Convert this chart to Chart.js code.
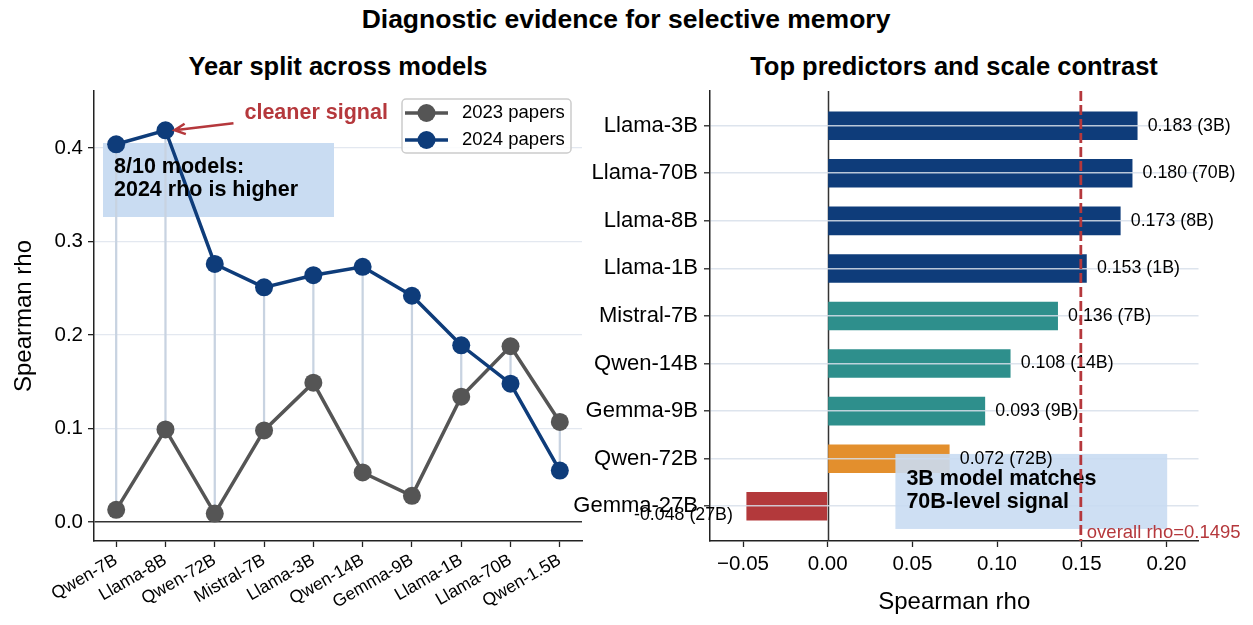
<!DOCTYPE html>
<html>
<head>
<meta charset="utf-8">
<script src="https://cdn.jsdelivr.net/npm/chart.js@4.4.1/dist/chart.umd.min.js"></script>
<style>
  body { margin: 0; width: 1253px; height: 625px; background: #fff; position: relative; overflow: hidden;
         font-family: "Liberation Sans", Arial, sans-serif; }
  .ttl { position: absolute; font-weight: bold; color: #000; white-space: nowrap; transform: translate(-50%, -50%); }
  canvas { position: absolute; top: 0; }
</style>
</head>
<body>
<div class="ttl" style="left:626px; top:19px; font-size:26.5px">Diagnostic evidence for selective memory</div>
<div class="ttl" style="left:338px; top:66px; font-size:25.5px">Year split across models</div>
<div class="ttl" style="left:954px; top:66px; font-size:25.5px">Top predictors and scale contrast</div>
<canvas id="yearChart" width="600" height="625" style="left:0; width:600px; height:625px"></canvas>
<canvas id="predChart" width="698" height="625" style="left:555px; width:698px; height:625px"></canvas>
<script>
// left panel: rho by model, split by paper year
const yearModels = ['Qwen-7B', 'Llama-8B', 'Qwen-72B', 'Mistral-7B', 'Llama-3B', 'Qwen-14B', 'Gemma-9B', 'Llama-1B', 'Llama-70B', 'Qwen-1.5B'];
const rho2023 = [0.013, 0.099, 0.009, 0.098, 0.149, 0.053, 0.028, 0.134, 0.188, 0.107];
const rho2024 = [0.404, 0.419, 0.276, 0.251, 0.264, 0.273, 0.242, 0.189, 0.148, 0.055];
const yearTicks = [0, 0.1, 0.2, 0.3, 0.4];

// right panel: top predictors
const predModels = ['Llama-3B', 'Llama-70B', 'Llama-8B', 'Llama-1B', 'Mistral-7B', 'Qwen-14B', 'Gemma-9B', 'Qwen-72B', 'Gemma-27B'];
const predRho = [0.183, 0.180, 0.173, 0.153, 0.136, 0.108, 0.093, 0.072, -0.048];
const predSize = ['3B', '70B', '8B', '1B', '7B', '14B', '9B', '72B', '27B'];
const predGroup = ['llama', 'llama', 'llama', 'llama', 'mid', 'mid', 'mid', 'qwen72', 'gemma27'];
const rhoTicks = [-0.05, 0, 0.05, 0.10, 0.15, 0.20];
const overallRho = 0.1495;

const FONT = '"Liberation Sans", Arial, sans-serif';
Chart.defaults.font.family = FONT;
Chart.defaults.color = '#000';

const gray = '#555555';
const navy = '#0e3c7a';
const groupColors = { llama: '#0e3c7a', mid: '#2e8f8c', qwen72: '#e38f2d', gemma27: '#b3393b' };
const red = '#b5383c';
const boxBlue = '#c9dcf2';

const yearNotes = {
  id: 'yearNotes',
  beforeDatasetsDraw(chart) {
    const { ctx, chartArea: a } = chart;
    ctx.save();
    ctx.fillStyle = boxBlue;
    ctx.fillRect(a.left + 9, a.top + 52, 231, 74);
    ctx.restore();
  },
  afterDatasetsDraw(chart) {
    const { ctx, chartArea: a, scales: { x, y } } = chart;
    ctx.save();
    ctx.fillStyle = '#000';
    ctx.font = 'bold 21.5px ' + FONT;
    ctx.textBaseline = 'middle';
    ctx.textAlign = 'left';
    ctx.fillText('8/10 models:', a.left + 20, a.top + 76);
    ctx.fillText('2024 rho is higher', a.left + 20, a.top + 99);

    // arrow pointing at the Llama-8B 2024 point
    const tx = x.getPixelForValue(1) + 9;
    const ty = y.getPixelForValue(rho2024[1]);
    const sx = tx + 59, sy = ty - 7;
    const ang = Math.atan2(ty - sy, tx - sx);
    ctx.strokeStyle = red;
    ctx.lineWidth = 2.5;
    ctx.beginPath();
    ctx.moveTo(sx, sy);
    ctx.lineTo(tx, ty);
    ctx.moveTo(tx - 12 * Math.cos(ang - 0.45), ty - 12 * Math.sin(ang - 0.45));
    ctx.lineTo(tx, ty);
    ctx.lineTo(tx - 12 * Math.cos(ang + 0.45), ty - 12 * Math.sin(ang + 0.45));
    ctx.stroke();
    ctx.fillStyle = red;
    ctx.fillText('cleaner signal', tx + 70, ty - 17);

    // legend
    const lx = a.right - 180, ly = a.top + 8, lw = 169, lh = 54;
    ctx.fillStyle = 'rgba(255,255,255,0.85)';
    ctx.strokeStyle = '#cccccc';
    ctx.lineWidth = 1.5;
    ctx.beginPath();
    ctx.roundRect(lx, ly, lw, lh, 4);
    ctx.fill();
    ctx.stroke();
    const entries = chart.data.datasets.filter(d => d.type !== 'bar');
    entries.forEach((d, k) => {
      const cy = ly + 14 + k * 27;
      ctx.strokeStyle = d.borderColor;
      ctx.lineWidth = 3.5;
      ctx.beginPath();
      ctx.moveTo(lx + 3, cy);
      ctx.lineTo(lx + 46, cy);
      ctx.stroke();
      ctx.fillStyle = d.borderColor;
      ctx.beginPath();
      ctx.arc(lx + 24.5, cy, 9, 0, Math.PI * 2);
      ctx.fill();
      ctx.fillStyle = '#000';
      ctx.font = '18.5px ' + FONT;
      ctx.fillText(d.label, lx + 60, cy);
    });
    ctx.restore();
  }
};

new Chart(document.getElementById('yearChart'), {
  type: 'line',
  data: {
    datasets: [
      {
        type: 'bar',
        label: 'gap',
        data: yearModels.map((m, i) => ({ x: i, y: [Math.min(rho2023[i], rho2024[i]), Math.max(rho2023[i], rho2024[i])] })),
        backgroundColor: '#c8d3e1',
        barThickness: 1.6,
        order: 3
      },
      {
        label: '2023 papers',
        data: yearModels.map((m, i) => ({ x: i, y: rho2023[i] })),
        borderColor: gray,
        backgroundColor: gray,
        borderWidth: 3.5,
        pointRadius: 9,
        pointBorderWidth: 0,
        order: 2
      },
      {
        label: '2024 papers',
        data: yearModels.map((m, i) => ({ x: i, y: rho2024[i] })),
        borderColor: navy,
        backgroundColor: navy,
        borderWidth: 3.5,
        pointRadius: 9,
        pointBorderWidth: 0,
        order: 1
      }
    ]
  },
  options: {
    responsive: false,
    animation: false,
    layout: { padding: { left: 0, right: 18, top: 91, bottom: 0 } },
    plugins: { legend: { display: false }, tooltip: { enabled: false } },
    scales: {
      x: {
        type: 'linear',
        min: -0.45,
        max: 9.45,
        offset: false,
        afterBuildTicks: s => { s.ticks = yearModels.map((m, i) => ({ value: i })); },
        afterFit: s => { s.height = 84; },
        grid: { offset: false, drawOnChartArea: false, tickColor: '#222', tickLength: 6, tickWidth: 1.3 },
        border: { color: '#222', width: 1.5 },
        ticks: { callback: v => yearModels[v], minRotation: 30, maxRotation: 30, autoSkip: false,
                 font: { size: 17.5 }, color: '#000', padding: 3 }
      },
      y: {
        min: -0.0203,
        max: 0.461,
        afterBuildTicks: s => { s.ticks = yearTicks.map(v => ({ value: v })); },
        afterFit: s => { s.width = 94; },
        grid: {
          color: c => (c.tick && c.tick.value === 0 ? '#333' : '#e3e8f0'),
          lineWidth: c => (c.tick && c.tick.value === 0 ? 1.5 : 1.3),
          tickColor: '#222', tickLength: 6, tickWidth: 1.3
        },
        border: { color: '#222', width: 1.5 },
        ticks: { callback: v => v.toFixed(1), font: { size: 20.5 }, color: '#000', padding: 5 },
        title: { display: true, text: 'Spearman rho', font: { size: 24 }, color: '#000', padding: { top: 10, bottom: 0 } }
      }
    }
  },
  plugins: [yearNotes]
});

const predNotes = {
  id: 'predNotes',
  beforeDatasetsDraw(chart) {
    // zero reference line
    const { ctx, chartArea: a, scales: { x } } = chart;
    const zx = Math.round(x.getPixelForValue(0)) + 0.5;
    ctx.save();
    ctx.strokeStyle = '#333';
    ctx.lineWidth = 1.5;
    ctx.beginPath();
    ctx.moveTo(zx, a.top);
    ctx.lineTo(zx, a.bottom);
    ctx.stroke();
    ctx.restore();
  },
  afterDraw(chart) {
    const { ctx, chartArea: a, scales: { x, y } } = chart;
    ctx.save();
    ctx.textBaseline = 'middle';

    // callout box
    const bx0 = x.getPixelForValue(0.04), bx1 = x.getPixelForValue(0.2005);
    const by0 = y.getPixelForValue(6.9), by1 = y.getPixelForValue(8.477);
    ctx.fillStyle = 'rgba(201,220,242,0.9)';
    ctx.fillRect(bx0, by0, bx1 - bx0, by1 - by0);

    // value labels
    ctx.font = '17.8px ' + FONT;
    ctx.fillStyle = '#000';
    predRho.forEach((v, i) => {
      const pos = v >= 0;
      ctx.textAlign = pos ? 'left' : 'right';
      const px = x.getPixelForValue(v + (pos ? 0.006 : -0.008));
      const py = y.getPixelForValue(i) + (pos ? 0 : 9);
      ctx.fillText(v.toFixed(3) + ' (' + predSize[i] + ')', px, py);
    });

    ctx.font = 'bold 21.5px ' + FONT;
    ctx.textAlign = 'left';
    ctx.fillText('3B model matches', bx0 + 11, by0 + 25);
    ctx.fillText('70B-level signal', bx0 + 11, by0 + 48);

    // overall rho reference line
    const ox = x.getPixelForValue(overallRho);
    ctx.strokeStyle = red;
    ctx.lineWidth = 2.8;
    ctx.setLineDash([10, 4]);
    ctx.beginPath();
    ctx.moveTo(ox, a.top);
    ctx.lineTo(ox, a.bottom);
    ctx.stroke();
    ctx.setLineDash([]);
    ctx.fillStyle = red;
    ctx.font = '18.5px ' + FONT;
    ctx.fillText('overall rho=' + overallRho, ox + 6, a.bottom - 8);
    ctx.restore();
  }
};

new Chart(document.getElementById('predChart'), {
  type: 'bar',
  data: {
    datasets: [{
      label: 'Spearman rho',
      data: predRho.map((v, i) => ({ x: v, y: i })),
      backgroundColor: predGroup.map(g => groupColors[g]),
      barPercentage: 0.6,
      categoryPercentage: 1.0
    }]
  },
  options: {
    indexAxis: 'y',
    responsive: false,
    animation: false,
    layout: { padding: { left: 0, right: 54.5, top: 91, bottom: 0 } },
    plugins: { legend: { display: false }, tooltip: { enabled: false } },
    scales: {
      x: {
        type: 'linear',
        min: -0.0695,
        max: 0.219,
        afterBuildTicks: s => { s.ticks = rhoTicks.map(v => ({ value: v })); },
        afterFit: s => { s.height = 84; },
        grid: { offset: false, drawOnChartArea: false, tickColor: '#222', tickLength: 6, tickWidth: 1.3 },
        border: { color: '#222', width: 1.5 },
        ticks: { callback: v => (v < 0 ? '\u2212' + Math.abs(v).toFixed(2) : v.toFixed(2)),
                 font: { size: 20.5 }, color: '#000', padding: 5 },
        title: { display: true, text: 'Spearman rho', font: { size: 24 }, color: '#000', padding: { top: 0, bottom: 8 } }
      },
      y: {
        type: 'linear',
        reverse: true,
        min: -0.73,
        max: 8.73,
        offset: false,
        afterBuildTicks: s => { s.ticks = predModels.map((m, i) => ({ value: i })); },
        afterFit: s => { s.width = 155; },
        // grid sits above the bars; border layer must come after it
        grid: { offset: false, z: 1, color: 'rgba(215,223,234,0.85)', lineWidth: 1.6,
                tickColor: '#222', tickLength: 6, tickWidth: 1.3 },
        border: { color: '#222', width: 1.5, z: 2 },
        ticks: { callback: v => predModels[v], font: { size: 22 }, color: '#000', padding: 6, autoSkip: false }
      }
    }
  },
  plugins: [predNotes]
});
</script>
</body>
</html>
